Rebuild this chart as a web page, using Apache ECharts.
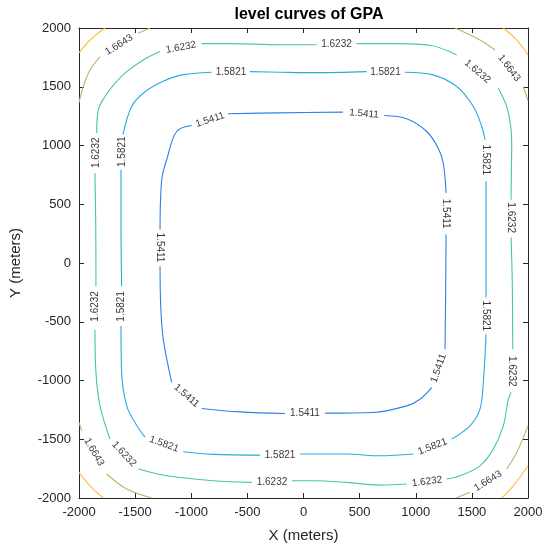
<!DOCTYPE html>
<html>
<head>
<meta charset="utf-8">
<script src="https://cdn.jsdelivr.net/npm/echarts@6/dist/echarts.min.js"></script>
<style>html,body{margin:0;padding:0;background:#fff}#c{width:548px;height:548px}</style>
</head>
<body>
<div id="c"></div>
<script>
// Contour levels
const levelNames = ['1.5411', '1.5821', '1.6232', '1.6643', '1.7054'];

// Contour paths in meters; null = gap where an inline label sits or between separate pieces
const c5411 = [
  [-672,1270],[-209,1278],[350,1284], null,
  [720,1255],[919,1227],[1098,1119],[1198,981],[1245,851],[1270,596], null,
  [1270,242],[1267,-168],[1261,-735], null,
  [1142,-1060],[1038,-1159],[919,-1216],[622,-1272],[192,-1278], null,
  [-165,-1281],[-566,-1267],[-907,-1238], null,
  [-1174,-1017],[-1249,-650],[-1272,-367],[-1278,-27], null,
  [-1278,285],[-1263,709],[-1219,879],[-1130,1119],[-996,1170]
];
const c5821 = [
  [-477,1629],[-209,1624],[87,1620],[563,1629], null,
  [904,1624],[1154,1601],[1365,1502],[1513,1332],[1588,1162],[1617,1049], null,
  [1626,695],[1626,-168],[1626,-293], null,
  [1626,-607],[1602,-1017],[1572,-1244],[1483,-1386],[1320,-1499], null,
  [978,-1626],[682,-1641],[385,-1626],[-31,-1626], null,
  [-388,-1635],[-804,-1629],[-1071,-1607], null,
  [-1412,-1482],[-1492,-1372],[-1575,-1216],[-1620,-933],[-1626,-537], null,
  [-1620,-197],[-1626,344],[-1626,794], null,
  [-1608,1092],[-1531,1332],[-1412,1457],[-1249,1547],[-1071,1603],[-818,1624]
];
const c6232 = [
  [-907,1867],[-655,1867],[-209,1858],[118,1858], null,
  [474,1867],[830,1867],[1127,1853],[1365,1771], null,
  [1736,1488],[1810,1332],[1846,1162],[1855,1000],[1852,800],[1849,539], null,
  [1849,217],[1860,-168],[1864,-735], null,
  [1849,-1102],[1825,-1159],[1780,-1386],[1691,-1584],[1572,-1726],[1394,-1811],[1276,-1839], null,
  [919,-1881],[682,-1890],[385,-1867],[87,-1853],[-105,-1853], null,
  [-462,-1867],[-804,-1853],[-1219,-1811],[-1472,-1754], null,
  [-1724,-1499],[-1813,-1216],[-1849,-933],[-1858,-565], null,
  [-1849,-197],[-1851,341],[-1858,766], null,
  [-1842,1106],[-1828,1304],[-1768,1417],[-1679,1530],[-1575,1629],[-1427,1728],[-1278,1799]
];
const c6643 = [
  [-1368,2000],[-1472,1955], null,
  [-1813,1754],[-1902,1643],[-1962,1502],[-2000,1363], null,
  [1350,2000],[1572,1898],[1706,1813], null,
  [1958,1502],[2000,1380], null,
  [-2000,-1357],[-1976,-1429], null,
  [-1753,-1796],[-1575,-1924],[-1352,-2000], null,
  [1359,-2000],[1483,-1952], null,
  [1810,-1754],[1899,-1612],[2000,-1386]
];
const c7054 = [
  [-2000,1788],[-1902,1898],[-1768,2000], null,
  [1780,2000],[1899,1898],[2000,1771], null,
  [-2000,-1782],[-1902,-1896],[-1784,-2000], null,
  [1766,-2000],[1869,-1896],[2000,-1726]
];
const contours = [c5411, c5821, c6232, c6643, c7054];

// Inline label anchors: [x, y, level index]
const labelPoints = [
  [-833,1219,0],[539,1270,0],[1270,420,0],[1203,-896,0],[13,-1278,0],[-1042,-1130,0],[-1278,132,0],
  [-646,1626,1],[730,1626,1],[1621,879,1],[1626,-450,1],[1149,-1563,1],[-209,-1635,1],[-1243,-1541,1],[-1626,-369,1],[-1617,947,1],
  [-1091,1834,2],[294,1864,2],[1550,1629,2],[1849,386,2],[1858,-921,2],[1100,-1860,2],[-281,-1864,2],[-1599,-1626,2],[-1853,-369,2],[-1849,938,2],
  [-1644,1856,3],[1831,1660,3],[-1866,-1609,3],[1644,-1856,3]
];
// text rotation of each label (degrees, counter-clockwise)
const labelAngles = [
  18,-5,-90,71,0,-41,-90,
  0,0,-90,-90,21,0,-20,90,90,
  11,0,-40,-90,-90,7,0,-47,90,90,
  32,-53,-60,32
];

// x / y axis tick range
const axisMin = -2000, axisMax = 2000, axisStep = 500;

const lineColors = ['#2a80e6', '#27abe0', '#45c6a4', '#a9be66', '#fbbf3c'];
const FONT = '"Liberation Sans", Arial, Helvetica, sans-serif';
const AX = '#262626';

const series = [];
contours.forEach((pts, li) => {
  let seg = [];
  const flush = () => {
    if (seg.length > 1) {
      series.push({
        type: 'line', data: seg, smooth: 0.35, symbol: 'none', silent: true,
        lineStyle: { color: lineColors[li], width: 1.1 }, clip: true, z: 2
      });
    }
    seg = [];
  };
  pts.forEach(p => { if (p === null) flush(); else seg.push(p); });
  flush();
});

series.push({
  type: 'scatter', symbolSize: 0, silent: true, z: 5,
  data: labelPoints.map((p, i) => ({
    value: [p[0], p[1]],
    label: {
      show: true, position: 'inside', formatter: levelNames[p[2]],
      rotate: labelAngles[i], align: 'center', verticalAlign: 'middle',
      fontSize: 10, color: '#000', fontFamily: FONT
    }
  }))
});

const baseAxis = {
  type: 'value', min: axisMin, max: axisMax, interval: axisStep,
  splitLine: { show: false },
  axisLine: { show: true, onZero: false, lineStyle: { color: AX, width: 1 } },
  axisTick: { show: true, inside: true, length: 5, lineStyle: { color: AX } }
};
const fmt = v => String(v);

const chart = echarts.init(document.getElementById('c'), null, { renderer: 'canvas' });
chart.setOption({
  animation: false,
  backgroundColor: '#fff',
  title: {
    text: 'level curves of GPA', left: 304, top: 2, textAlign: 'center',
    textStyle: { fontSize: 16, fontWeight: 'bold', color: '#000', fontFamily: FONT }
  },
  grid: { left: 79, right: 20, top: 28, bottom: 49, containLabel: false },
  xAxis: [
    Object.assign({}, baseAxis, {
      position: 'bottom',
      name: 'X (meters)', nameLocation: 'middle', nameGap: 30,
      nameTextStyle: { fontSize: 15, color: AX, fontFamily: FONT },
      axisLabel: { fontSize: 13, color: AX, margin: 8, fontFamily: FONT, formatter: fmt }
    }),
    Object.assign({}, baseAxis, { position: 'top', axisLabel: { show: false } })
  ],
  yAxis: [
    Object.assign({}, baseAxis, {
      position: 'left',
      name: 'Y (meters)', nameLocation: 'middle', nameGap: 56,
      nameTextStyle: { fontSize: 15, color: AX, fontFamily: FONT },
      axisLabel: { fontSize: 13, color: AX, margin: 8, fontFamily: FONT, formatter: fmt }
    }),
    Object.assign({}, baseAxis, { position: 'right', axisLabel: { show: false } })
  ],
  series: series
});
</script>
</body>
</html>
